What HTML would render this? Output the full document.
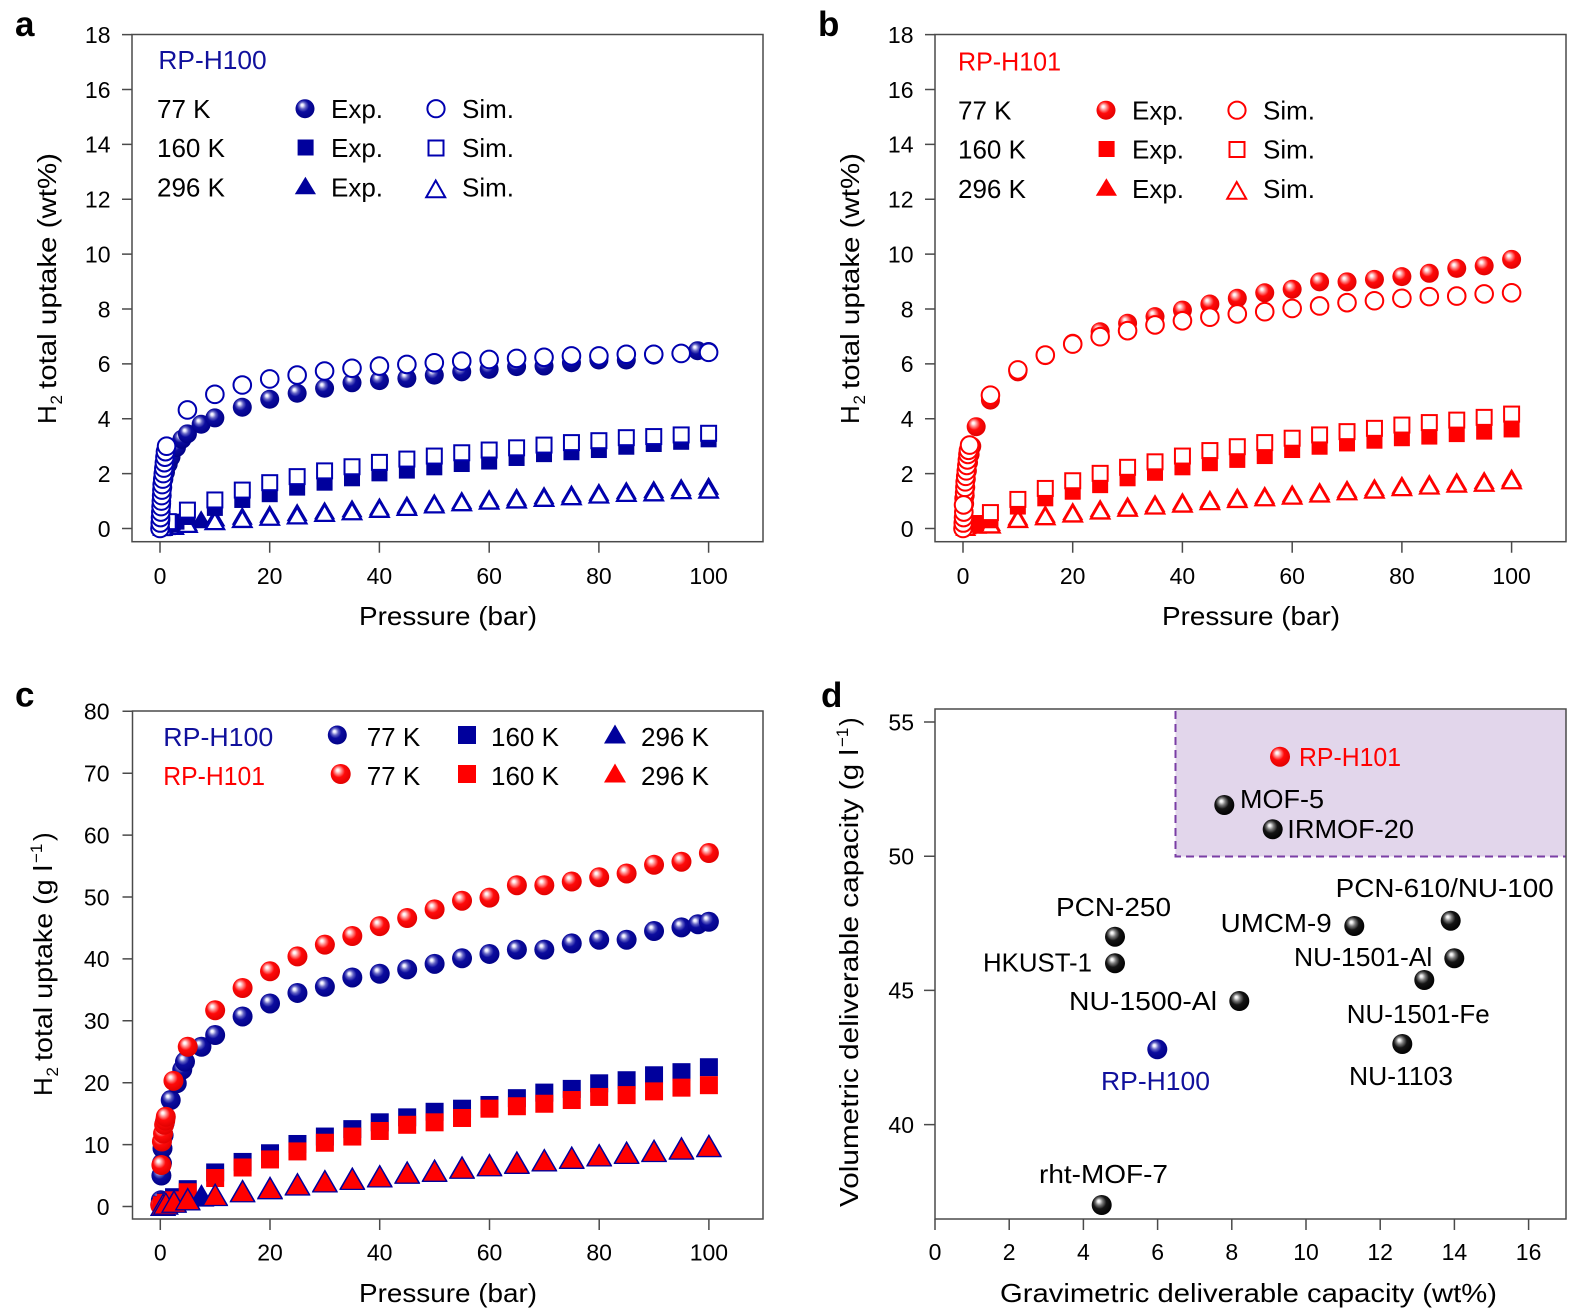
<!DOCTYPE html>
<html><head><meta charset="utf-8"><style>
html,body{margin:0;padding:0;background:#fff}
svg{display:block}
text{font-family:"Liberation Sans",Arial,sans-serif}
</style></head><body>
<svg xmlns="http://www.w3.org/2000/svg" width="1579" height="1313" viewBox="0 0 1579 1313" fill="#000">
<defs>
<radialGradient id="gB" cx="0.45" cy="0.42" r="0.6" fx="0.34" fy="0.3">
<stop offset="0" stop-color="#ffffff"/><stop offset="0.1" stop-color="#eeeeff"/><stop offset="0.3" stop-color="#6262c4"/><stop offset="0.52" stop-color="#0c0c9e"/><stop offset="1" stop-color="#000086"/></radialGradient>
<radialGradient id="gR" cx="0.45" cy="0.42" r="0.6" fx="0.34" fy="0.3">
<stop offset="0" stop-color="#ffffff"/><stop offset="0.1" stop-color="#fff0f0"/><stop offset="0.3" stop-color="#ff8080"/><stop offset="0.52" stop-color="#ff0a0a"/><stop offset="1" stop-color="#e00000"/></radialGradient>
<radialGradient id="gK" cx="0.45" cy="0.42" r="0.6" fx="0.34" fy="0.3">
<stop offset="0" stop-color="#ffffff"/><stop offset="0.1" stop-color="#eeeeee"/><stop offset="0.3" stop-color="#7a7a7a"/><stop offset="0.55" stop-color="#151515"/><stop offset="1" stop-color="#000000"/></radialGradient>
<!-- panel a/b markers -->
<g id="ceA" transform="scale(.182282 -.036443)"><circle r="9.5" fill="url(#gB)"/></g>
<g id="csA" transform="scale(.182282 -.036443)"><circle r="8.8" fill="#fff" stroke="#0000b0" stroke-width="2"/></g>
<g id="qeA" transform="scale(.182282 -.036443)"><rect x="-8" y="-8" width="16" height="16" fill="#00009c"/></g>
<g id="qsA" transform="scale(.182282 -.036443)"><rect x="-7.5" y="-7.5" width="15" height="15" fill="#fff" stroke="#0000b0" stroke-width="2"/></g>
<g id="teA" transform="scale(.182282 -.036443)"><polygon points="0,-10 10.5,8 -10.5,8" fill="#00009c"/></g>
<g id="tsA" transform="scale(.182282 -.036443)"><polygon points="0,-8.5 9.2,7.5 -9.2,7.5" fill="#fff" stroke="#0000b0" stroke-width="2.3"/></g>
<g id="ceR" transform="scale(.182282 -.036443)"><circle r="9.5" fill="url(#gR)"/></g>
<g id="csR" transform="scale(.182282 -.036443)"><circle r="8.8" fill="#fff" stroke="#ff0000" stroke-width="2"/></g>
<g id="qeR" transform="scale(.182282 -.036443)"><rect x="-8" y="-8" width="16" height="16" fill="#ff0000"/></g>
<g id="qsR" transform="scale(.182282 -.036443)"><rect x="-7.5" y="-7.5" width="15" height="15" fill="#fff" stroke="#ff0000" stroke-width="2"/></g>
<g id="teR" transform="scale(.182282 -.036443)"><polygon points="0,-10 10.5,8 -10.5,8" fill="#ff0000"/></g>
<g id="tsR" transform="scale(.182282 -.036443)"><polygon points="0,-8.5 9.2,7.5 -9.2,7.5" fill="#fff" stroke="#ff0000" stroke-width="2.3"/></g>
<!-- panel c markers -->
<g id="cBc" transform="scale(.182282 -.161551)"><circle r="10" fill="url(#gB)"/></g>
<g id="cRc" transform="scale(.182282 -.161551)"><circle r="10" fill="url(#gR)"/></g>
<g id="qBc" transform="scale(.182282 -.161551)"><rect x="-9" y="-9" width="18" height="18" fill="#00009c"/></g>
<g id="qRc" transform="scale(.182282 -.161551)"><rect x="-9" y="-9" width="18" height="18" fill="#ff0000"/></g>
<g id="tBc" transform="scale(.182282 -.161551)"><polygon points="0,-12.5 13,10 -13,10" fill="#00009c"/></g>
<g id="tRc" transform="scale(.182282 -.161551)"><polygon points="0,-11.5 12,9.5 -12,9.5" fill="#ff0000" stroke="#00009c" stroke-width="1.3"/></g>
</defs>
<rect width="1579" height="1313" fill="#fff"/>

<!-- ================= PANEL A ================= -->
<text x="15" y="36" font-size="35" font-weight="bold">a</text>
<rect x="132" y="34.5" width="631" height="507.2" fill="none" stroke="#4a4a4a" stroke-width="1.5"/>
<path d="M122 528.5H132M122 473.62H132M122 418.74H132M122 363.86H132M122 308.98H132M122 254.1H132M122 199.22H132M122 144.34H132M122 89.46H132M122 34.58H132M160 541.7V552.7M269.7 541.7V552.7M379.4 541.7V552.7M489.2 541.7V552.7M598.9 541.7V552.7M708.6 541.7V552.7" stroke="#4a4a4a" stroke-width="1.5" fill="none"/>
<g font-size="23" text-anchor="end">
<text x="110.5" y="536.8">0</text><text x="110.5" y="481.9">2</text><text x="110.5" y="427">4</text><text x="110.5" y="372.2">6</text><text x="110.5" y="317.3">8</text><text x="110.5" y="262.4">10</text><text x="110.5" y="207.5">12</text><text x="110.5" y="152.6">14</text><text x="110.5" y="97.8">16</text><text x="110.5" y="42.9">18</text>
</g>
<g font-size="23" text-anchor="middle">
<text x="160" y="583.8">0</text><text x="269.7" y="583.8">20</text><text x="379.4" y="583.8">40</text><text x="489.2" y="583.8">60</text><text x="598.9" y="583.8">80</text><text x="708.6" y="583.8">100</text>
</g>
<text x="359" y="625" font-size="26" textLength="178" lengthAdjust="spacingAndGlyphs">Pressure (bar)</text>
<g transform="translate(56,424) rotate(-90)" font-size="26">
<text x="0" y="0">H</text><text x="19.5" y="6" font-size="17">2</text>
<text x="35" y="0" textLength="236" lengthAdjust="spacingAndGlyphs">total uptake (wt%)</text>
</g>
<!-- legend a -->
<g font-size="26">
<text x="158.4" y="69" fill="#10109c" textLength="108.3" lengthAdjust="spacingAndGlyphs">RP-H100</text>
<text x="157" y="118">77 K</text><text x="157" y="157">160 K</text><text x="157" y="196.5">296 K</text>
<text x="331" y="118">Exp.</text><text x="331" y="157">Exp.</text><text x="331" y="196.5">Exp.</text>
<text x="462" y="118">Sim.</text><text x="462" y="157">Sim.</text><text x="462" y="196.5">Sim.</text>
</g>
<circle cx="305" cy="108.7" r="9.5" fill="url(#gB)"/>
<circle cx="436" cy="108.7" r="8.6" fill="#fff" stroke="#0000b0" stroke-width="2"/>
<rect x="297.6" y="139.5" width="16" height="16" fill="#00009c"/>
<rect x="428.5" y="140.5" width="15" height="15" fill="#fff" stroke="#0000b0" stroke-width="2"/>
<polygon points="305.4,176.7 316,194.3 294.8,194.3" fill="#00009c"/>
<polygon points="435.7,180.5 445.2,197.2 426.2,197.2" fill="#fff" stroke="#0000b0" stroke-width="2"/>
<!-- data a -->
<g transform="translate(160 528.5) scale(5.486 -27.44)">
<use href="#teA" x="0.5" y="0.02"/><use href="#teA" x="1" y="0.05"/><use href="#teA" x="2.5" y="0.12"/><use href="#teA" x="5" y="0.2"/><use href="#teA" x="7.5" y="0.3"/><use href="#teA" x="10" y="0.37"/><use href="#teA" x="15" y="0.43"/><use href="#teA" x="20" y="0.5"/><use href="#teA" x="25" y="0.56"/><use href="#teA" x="30" y="0.63"/><use href="#teA" x="35" y="0.7"/><use href="#teA" x="40" y="0.77"/><use href="#teA" x="45" y="0.84"/><use href="#teA" x="50" y="0.92"/><use href="#teA" x="55" y="1.0"/><use href="#teA" x="60" y="1.07"/><use href="#teA" x="65" y="1.12"/><use href="#teA" x="70" y="1.18"/><use href="#teA" x="75" y="1.24"/><use href="#teA" x="80" y="1.3"/><use href="#teA" x="85" y="1.36"/><use href="#teA" x="90" y="1.40"/><use href="#teA" x="95" y="1.47"/><use href="#teA" x="100" y="1.52"/>
<use href="#tsA" x="2.5" y="0.08"/><use href="#tsA" x="5" y="0.15"/><use href="#tsA" x="10" y="0.25"/><use href="#tsA" x="15" y="0.33"/><use href="#tsA" x="20" y="0.41"/><use href="#tsA" x="25" y="0.46"/><use href="#tsA" x="30" y="0.55"/><use href="#tsA" x="35" y="0.61"/><use href="#tsA" x="40" y="0.70"/><use href="#tsA" x="45" y="0.77"/><use href="#tsA" x="50" y="0.86"/><use href="#tsA" x="55" y="0.94"/><use href="#tsA" x="60" y="1.0"/><use href="#tsA" x="65" y="1.04"/><use href="#tsA" x="70" y="1.10"/><use href="#tsA" x="75" y="1.16"/><use href="#tsA" x="80" y="1.22"/><use href="#tsA" x="85" y="1.28"/><use href="#tsA" x="90" y="1.30"/><use href="#tsA" x="95" y="1.38"/><use href="#tsA" x="100" y="1.40"/>
<use href="#qeA" x="0.3" y="0.02"/><use href="#qeA" x="1" y="0.08"/><use href="#qeA" x="2" y="0.15"/><use href="#qeA" x="3" y="0.25"/><use href="#qeA" x="5" y="0.42"/><use href="#qeA" x="10" y="0.75"/><use href="#qeA" x="15" y="1.04"/><use href="#qeA" x="20" y="1.25"/><use href="#qeA" x="25" y="1.49"/><use href="#qeA" x="30" y="1.67"/><use href="#qeA" x="35" y="1.83"/><use href="#qeA" x="40" y="2.01"/><use href="#qeA" x="45" y="2.11"/><use href="#qeA" x="50" y="2.23"/><use href="#qeA" x="55" y="2.35"/><use href="#qeA" x="60" y="2.44"/><use href="#qeA" x="65" y="2.57"/><use href="#qeA" x="70" y="2.71"/><use href="#qeA" x="75" y="2.78"/><use href="#qeA" x="80" y="2.86"/><use href="#qeA" x="85" y="2.98"/><use href="#qeA" x="90" y="3.08"/><use href="#qeA" x="95" y="3.16"/><use href="#qeA" x="100" y="3.25"/>
<use href="#qsA" x="0.5" y="0.03"/><use href="#qsA" x="1.5" y="0.25"/><use href="#qsA" x="5" y="0.67"/><use href="#qsA" x="10" y="1.04"/><use href="#qsA" x="15" y="1.4"/><use href="#qsA" x="20" y="1.67"/><use href="#qsA" x="25" y="1.89"/><use href="#qsA" x="30" y="2.10"/><use href="#qsA" x="35" y="2.25"/><use href="#qsA" x="40" y="2.41"/><use href="#qsA" x="45" y="2.53"/><use href="#qsA" x="50" y="2.64"/><use href="#qsA" x="55" y="2.76"/><use href="#qsA" x="60" y="2.86"/><use href="#qsA" x="65" y="2.94"/><use href="#qsA" x="70" y="3.04"/><use href="#qsA" x="75" y="3.13"/><use href="#qsA" x="80" y="3.20"/><use href="#qsA" x="85" y="3.31"/><use href="#qsA" x="90" y="3.35"/><use href="#qsA" x="95" y="3.41"/><use href="#qsA" x="100" y="3.47"/>
<use href="#ceA" x="0.1" y="0"/><use href="#ceA" x="0.15" y="0.3"/><use href="#ceA" x="0.2" y="0.6"/><use href="#ceA" x="0.3" y="0.9"/><use href="#ceA" x="0.4" y="1.2"/><use href="#ceA" x="0.5" y="1.5"/><use href="#ceA" x="0.7" y="1.8"/><use href="#ceA" x="1" y="2.05"/><use href="#ceA" x="1.5" y="2.35"/><use href="#ceA" x="2" y="2.6"/><use href="#ceA" x="3" y="2.95"/><use href="#ceA" x="4" y="3.25"/><use href="#ceA" x="5" y="3.45"/><use href="#ceA" x="7.5" y="3.8"/><use href="#ceA" x="10" y="4.03"/><use href="#ceA" x="15" y="4.42"/><use href="#ceA" x="20" y="4.71"/><use href="#ceA" x="25" y="4.93"/><use href="#ceA" x="30" y="5.11"/><use href="#ceA" x="35" y="5.31"/><use href="#ceA" x="40" y="5.39"/><use href="#ceA" x="45" y="5.47"/><use href="#ceA" x="50" y="5.59"/><use href="#ceA" x="55" y="5.71"/><use href="#ceA" x="60" y="5.80"/><use href="#ceA" x="65" y="5.90"/><use href="#ceA" x="70" y="5.92"/><use href="#ceA" x="75" y="6.04"/><use href="#ceA" x="80" y="6.14"/><use href="#ceA" x="85" y="6.14"/><use href="#ceA" x="90" y="6.32"/><use href="#ceA" x="95" y="6.38"/><use href="#ceA" x="98" y="6.48"/><use href="#ceA" x="100" y="6.45"/>
<use href="#csA" x="0" y="0"/><use href="#csA" x="0.05" y="0.2"/><use href="#csA" x="0.1" y="0.4"/><use href="#csA" x="0.15" y="0.6"/><use href="#csA" x="0.2" y="0.8"/><use href="#csA" x="0.25" y="1.0"/><use href="#csA" x="0.3" y="1.2"/><use href="#csA" x="0.35" y="1.4"/><use href="#csA" x="0.4" y="1.6"/><use href="#csA" x="0.5" y="1.8"/><use href="#csA" x="0.6" y="2.0"/><use href="#csA" x="0.7" y="2.2"/><use href="#csA" x="0.8" y="2.4"/><use href="#csA" x="0.9" y="2.6"/><use href="#csA" x="1.0" y="2.8"/><use href="#csA" x="1.2" y="3.0"/><use href="#csA" x="5" y="4.32"/><use href="#csA" x="10" y="4.89"/><use href="#csA" x="15" y="5.23"/><use href="#csA" x="20" y="5.45"/><use href="#csA" x="25" y="5.59"/><use href="#csA" x="30" y="5.74"/><use href="#csA" x="35" y="5.84"/><use href="#csA" x="40" y="5.92"/><use href="#csA" x="45" y="5.98"/><use href="#csA" x="50" y="6.04"/><use href="#csA" x="55" y="6.10"/><use href="#csA" x="60" y="6.16"/><use href="#csA" x="65" y="6.20"/><use href="#csA" x="70" y="6.24"/><use href="#csA" x="75" y="6.29"/><use href="#csA" x="80" y="6.29"/><use href="#csA" x="85" y="6.35"/><use href="#csA" x="90" y="6.35"/><use href="#csA" x="95" y="6.38"/><use href="#csA" x="100" y="6.42"/>
</g>

<!-- ================= PANEL B ================= -->
<text x="818" y="36" font-size="35" font-weight="bold">b</text>
<rect x="935" y="34.5" width="631" height="507.2" fill="none" stroke="#4a4a4a" stroke-width="1.5"/>
<path d="M925 528.5H935M925 473.62H935M925 418.74H935M925 363.86H935M925 308.98H935M925 254.1H935M925 199.22H935M925 144.34H935M925 89.46H935M925 34.58H935M963 541.7V552.7M1072.7 541.7V552.7M1182.4 541.7V552.7M1292.2 541.7V552.7M1401.9 541.7V552.7M1511.6 541.7V552.7" stroke="#4a4a4a" stroke-width="1.5" fill="none"/>
<g font-size="23" text-anchor="end">
<text x="913.5" y="536.8">0</text><text x="913.5" y="481.9">2</text><text x="913.5" y="427">4</text><text x="913.5" y="372.2">6</text><text x="913.5" y="317.3">8</text><text x="913.5" y="262.4">10</text><text x="913.5" y="207.5">12</text><text x="913.5" y="152.6">14</text><text x="913.5" y="97.8">16</text><text x="913.5" y="42.9">18</text>
</g>
<g font-size="23" text-anchor="middle">
<text x="963" y="583.8">0</text><text x="1072.7" y="583.8">20</text><text x="1182.4" y="583.8">40</text><text x="1292.2" y="583.8">60</text><text x="1401.9" y="583.8">80</text><text x="1511.6" y="583.8">100</text>
</g>
<text x="1162" y="625" font-size="26" textLength="178" lengthAdjust="spacingAndGlyphs">Pressure (bar)</text>
<g transform="translate(859,424) rotate(-90)" font-size="26">
<text x="0" y="0">H</text><text x="19.5" y="6" font-size="17">2</text>
<text x="35" y="0" textLength="236" lengthAdjust="spacingAndGlyphs">total uptake (wt%)</text>
</g>
<g font-size="26">
<text x="958" y="70.5" fill="#ff0000" textLength="103" lengthAdjust="spacingAndGlyphs">RP-H101</text>
<text x="958" y="119.5">77 K</text><text x="958" y="158.5">160 K</text><text x="958" y="198">296 K</text>
<text x="1132" y="119.5">Exp.</text><text x="1132" y="158.5">Exp.</text><text x="1132" y="198">Exp.</text>
<text x="1263" y="119.5">Sim.</text><text x="1263" y="158.5">Sim.</text><text x="1263" y="198">Sim.</text>
</g>
<circle cx="1106" cy="110.2" r="9.5" fill="url(#gR)"/>
<circle cx="1237" cy="110.2" r="8.6" fill="#fff" stroke="#ff0000" stroke-width="2"/>
<rect x="1098.6" y="141" width="16" height="16" fill="#ff0000"/>
<rect x="1229.5" y="142" width="15" height="15" fill="#fff" stroke="#ff0000" stroke-width="2"/>
<polygon points="1106.4,178.2 1117,195.8 1095.8,195.8" fill="#ff0000"/>
<polygon points="1236.7,182 1246.2,198.7 1227.2,198.7" fill="#fff" stroke="#ff0000" stroke-width="2"/>
<g transform="translate(963 528.5) scale(5.486 -27.44)">
<use href="#teR" x="0.5" y="0.02"/><use href="#teR" x="2.5" y="0.1"/><use href="#teR" x="5" y="0.2"/><use href="#teR" x="10" y="0.4"/><use href="#teR" x="15" y="0.5"/><use href="#teR" x="20" y="0.6"/><use href="#teR" x="25" y="0.71"/><use href="#teR" x="30" y="0.81"/><use href="#teR" x="35" y="0.89"/><use href="#teR" x="40" y="0.96"/><use href="#teR" x="45" y="1.05"/><use href="#teR" x="50" y="1.13"/><use href="#teR" x="55" y="1.19"/><use href="#teR" x="60" y="1.25"/><use href="#teR" x="65" y="1.33"/><use href="#teR" x="70" y="1.41"/><use href="#teR" x="75" y="1.47"/><use href="#teR" x="80" y="1.56"/><use href="#teR" x="85" y="1.62"/><use href="#teR" x="90" y="1.69"/><use href="#teR" x="95" y="1.73"/><use href="#teR" x="100" y="1.82"/>
<use href="#tsR" x="5" y="0.13"/><use href="#tsR" x="10" y="0.33"/><use href="#tsR" x="15" y="0.43"/><use href="#tsR" x="20" y="0.53"/><use href="#tsR" x="25" y="0.64"/><use href="#tsR" x="30" y="0.74"/><use href="#tsR" x="35" y="0.82"/><use href="#tsR" x="40" y="0.89"/><use href="#tsR" x="45" y="0.98"/><use href="#tsR" x="50" y="1.06"/><use href="#tsR" x="55" y="1.12"/><use href="#tsR" x="60" y="1.18"/><use href="#tsR" x="65" y="1.26"/><use href="#tsR" x="70" y="1.34"/><use href="#tsR" x="75" y="1.40"/><use href="#tsR" x="80" y="1.49"/><use href="#tsR" x="85" y="1.55"/><use href="#tsR" x="90" y="1.62"/><use href="#tsR" x="95" y="1.65"/><use href="#tsR" x="100" y="1.74"/>
<use href="#qeR" x="0.3" y="0.02"/><use href="#qeR" x="1" y="0.08"/><use href="#qeR" x="2.4" y="0.2"/><use href="#qeR" x="5" y="0.3"/><use href="#qeR" x="10" y="0.8"/><use href="#qeR" x="15" y="1.10"/><use href="#qeR" x="20" y="1.34"/><use href="#qeR" x="25" y="1.58"/><use href="#qeR" x="30" y="1.83"/><use href="#qeR" x="35" y="2.03"/><use href="#qeR" x="40" y="2.23"/><use href="#qeR" x="45" y="2.38"/><use href="#qeR" x="50" y="2.50"/><use href="#qeR" x="55" y="2.64"/><use href="#qeR" x="60" y="2.86"/><use href="#qeR" x="65" y="2.98"/><use href="#qeR" x="70" y="3.10"/><use href="#qeR" x="75" y="3.20"/><use href="#qeR" x="80" y="3.29"/><use href="#qeR" x="85" y="3.35"/><use href="#qeR" x="90" y="3.44"/><use href="#qeR" x="95" y="3.53"/><use href="#qeR" x="100" y="3.61"/>
<use href="#qsR" x="0.5" y="0.04"/><use href="#qsR" x="5" y="0.58"/><use href="#qsR" x="10" y="1.06"/><use href="#qsR" x="15" y="1.46"/><use href="#qsR" x="20" y="1.74"/><use href="#qsR" x="25" y="2.01"/><use href="#qsR" x="30" y="2.23"/><use href="#qsR" x="35" y="2.43"/><use href="#qsR" x="40" y="2.64"/><use href="#qsR" x="45" y="2.84"/><use href="#qsR" x="50" y="2.98"/><use href="#qsR" x="55" y="3.13"/><use href="#qsR" x="60" y="3.29"/><use href="#qsR" x="65" y="3.41"/><use href="#qsR" x="70" y="3.53"/><use href="#qsR" x="75" y="3.65"/><use href="#qsR" x="80" y="3.77"/><use href="#qsR" x="85" y="3.86"/><use href="#qsR" x="90" y="3.95"/><use href="#qsR" x="95" y="4.05"/><use href="#qsR" x="100" y="4.17"/>
<use href="#ceR" x="0.1" y="0"/><use href="#ceR" x="0.15" y="0.3"/><use href="#ceR" x="0.2" y="0.6"/><use href="#ceR" x="0.3" y="0.9"/><use href="#ceR" x="0.4" y="1.2"/><use href="#ceR" x="0.5" y="1.5"/><use href="#ceR" x="0.6" y="1.8"/><use href="#ceR" x="0.8" y="2.1"/><use href="#ceR" x="1.0" y="2.4"/><use href="#ceR" x="1.3" y="2.7"/><use href="#ceR" x="1.6" y="3.0"/><use href="#ceR" x="2.4" y="3.71"/><use href="#ceR" x="5" y="4.68"/><use href="#ceR" x="10" y="5.71"/><use href="#ceR" x="15" y="6.30"/><use href="#ceR" x="20" y="6.75"/><use href="#ceR" x="25" y="7.17"/><use href="#ceR" x="30" y="7.48"/><use href="#ceR" x="35" y="7.72"/><use href="#ceR" x="40" y="7.96"/><use href="#ceR" x="45" y="8.18"/><use href="#ceR" x="50" y="8.39"/><use href="#ceR" x="55" y="8.59"/><use href="#ceR" x="60" y="8.72"/><use href="#ceR" x="65" y="8.99"/><use href="#ceR" x="70" y="8.99"/><use href="#ceR" x="75" y="9.08"/><use href="#ceR" x="80" y="9.18"/><use href="#ceR" x="85" y="9.30"/><use href="#ceR" x="90" y="9.48"/><use href="#ceR" x="95" y="9.57"/><use href="#ceR" x="100" y="9.81"/>
<use href="#csR" x="0" y="0"/><use href="#csR" x="0.05" y="0.2"/><use href="#csR" x="0.1" y="0.4"/><use href="#csR" x="0.15" y="0.6"/><use href="#csR" x="0.2" y="1.1"/><use href="#csR" x="0.3" y="1.3"/><use href="#csR" x="0.35" y="1.5"/><use href="#csR" x="0.4" y="1.7"/><use href="#csR" x="0.5" y="1.9"/><use href="#csR" x="0.6" y="2.1"/><use href="#csR" x="0.7" y="2.3"/><use href="#csR" x="0.8" y="2.5"/><use href="#csR" x="0.9" y="2.7"/><use href="#csR" x="1.0" y="2.85"/><use href="#csR" x="1.2" y="3.04"/><use href="#csR" x="0.1" y="0.86"/><use href="#csR" x="5" y="4.86"/><use href="#csR" x="10" y="5.78"/><use href="#csR" x="15" y="6.32"/><use href="#csR" x="20" y="6.72"/><use href="#csR" x="25" y="6.99"/><use href="#csR" x="30" y="7.21"/><use href="#csR" x="35" y="7.42"/><use href="#csR" x="40" y="7.57"/><use href="#csR" x="45" y="7.70"/><use href="#csR" x="50" y="7.82"/><use href="#csR" x="55" y="7.90"/><use href="#csR" x="60" y="8.02"/><use href="#csR" x="65" y="8.11"/><use href="#csR" x="70" y="8.23"/><use href="#csR" x="75" y="8.30"/><use href="#csR" x="80" y="8.39"/><use href="#csR" x="85" y="8.45"/><use href="#csR" x="90" y="8.47"/><use href="#csR" x="95" y="8.55"/><use href="#csR" x="100" y="8.59"/>
</g>

<!-- ================= PANEL C ================= -->
<text x="15" y="706.5" font-size="35" font-weight="bold">c</text>
<rect x="132.5" y="711" width="630.5" height="508" fill="none" stroke="#4a4a4a" stroke-width="1.5"/>
<path d="M122.5 1206.5H132.5M122.5 1144.6H132.5M122.5 1082.7H132.5M122.5 1020.8H132.5M122.5 958.9H132.5M122.5 897H132.5M122.5 835.1H132.5M122.5 773.2H132.5M122.5 711.3H132.5M160.3 1219V1230M270 1219V1230M379.7 1219V1230M489.5 1219V1230M599.2 1219V1230M708.9 1219V1230" stroke="#4a4a4a" stroke-width="1.5" fill="none"/>
<g font-size="23" text-anchor="end">
<text x="109.5" y="1214.8">0</text><text x="109.5" y="1152.9">10</text><text x="109.5" y="1091">20</text><text x="109.5" y="1029.1">30</text><text x="109.5" y="967.2">40</text><text x="109.5" y="905.3">50</text><text x="109.5" y="843.4">60</text><text x="109.5" y="781.5">70</text><text x="109.5" y="719.6">80</text>
</g>
<g font-size="23" text-anchor="middle">
<text x="160.3" y="1260.5">0</text><text x="270" y="1260.5">20</text><text x="379.7" y="1260.5">40</text><text x="489.5" y="1260.5">60</text><text x="599.2" y="1260.5">80</text><text x="708.9" y="1260.5">100</text>
</g>
<text x="359" y="1302" font-size="26" textLength="178" lengthAdjust="spacingAndGlyphs">Pressure (bar)</text>
<g transform="translate(52,1096) rotate(-90)" font-size="26">
<text x="0" y="0">H</text><text x="19.5" y="6" font-size="17">2</text>
<text x="35" y="0" textLength="196" lengthAdjust="spacingAndGlyphs">total uptake (g l</text>
<text x="233" y="-10" font-size="17">−1</text>
<text x="255" y="0">)</text>
</g>
<g font-size="26">
<text x="163.3" y="746" fill="#10109c" textLength="110" lengthAdjust="spacingAndGlyphs">RP-H100</text>
<text x="163.3" y="785" fill="#ff0000" textLength="101.7" lengthAdjust="spacingAndGlyphs">RP-H101</text>
<text x="366.7" y="746">77 K</text><text x="366.7" y="785">77 K</text>
<text x="491" y="746">160 K</text><text x="491" y="785">160 K</text>
<text x="641" y="746">296 K</text><text x="641" y="785">296 K</text>
</g>
<circle cx="337.3" cy="735" r="9.5" fill="url(#gB)"/>
<circle cx="340.7" cy="774" r="10" fill="url(#gR)"/>
<rect x="458" y="726" width="18" height="18" fill="#00009c"/>
<rect x="458" y="765" width="18" height="18" fill="#ff0000"/>
<polygon points="615,724.5 626,743.5 604,743.5" fill="#00009c"/>
<polygon points="615,763.5 626,782.5 604,782.5" fill="#ff0000"/>
<g transform="translate(160.3 1206.5) scale(5.486 -6.19)">
<use href="#cBc" x="0" y="0.3"/><use href="#cBc" x="0.1" y="1.0"/><use href="#cBc" x="0.2" y="5.0"/><use href="#cBc" x="0.3" y="7.0"/><use href="#cBc" x="0.4" y="9.4"/><use href="#cBc" x="0.6" y="11.5"/><use href="#cBc" x="0.8" y="13.5"/><use href="#cBc" x="1.9" y="17.2"/><use href="#cBc" x="3" y="19.9"/><use href="#cBc" x="4" y="22.1"/><use href="#cBc" x="4.5" y="23.4"/><use href="#cBc" x="7.5" y="25.8"/><use href="#cBc" x="10" y="27.7"/><use href="#cBc" x="15" y="30.7"/><use href="#cBc" x="20" y="32.8"/><use href="#cBc" x="25" y="34.5"/><use href="#cBc" x="30" y="35.5"/><use href="#cBc" x="35" y="37.0"/><use href="#cBc" x="40" y="37.6"/><use href="#cBc" x="45" y="38.3"/><use href="#cBc" x="50" y="39.2"/><use href="#cBc" x="55" y="40.1"/><use href="#cBc" x="60" y="40.8"/><use href="#cBc" x="65" y="41.5"/><use href="#cBc" x="70" y="41.5"/><use href="#cBc" x="75" y="42.5"/><use href="#cBc" x="80" y="43.1"/><use href="#cBc" x="85" y="43.1"/><use href="#cBc" x="90" y="44.5"/><use href="#cBc" x="95" y="45.1"/><use href="#cBc" x="98" y="45.6"/><use href="#cBc" x="100" y="46.0"/>
<use href="#cRc" x="0" y="0.2"/><use href="#cRc" x="0.2" y="6.7"/><use href="#cRc" x="0.3" y="10.5"/><use href="#cRc" x="0.5" y="11.8"/><use href="#cRc" x="0.7" y="13.2"/><use href="#cRc" x="0.9" y="13.9"/><use href="#cRc" x="1.0" y="14.5"/><use href="#cRc" x="2.4" y="20.3"/><use href="#cRc" x="5" y="25.8"/><use href="#cRc" x="10" y="31.7"/><use href="#cRc" x="15" y="35.3"/><use href="#cRc" x="20" y="38.0"/><use href="#cRc" x="25" y="40.4"/><use href="#cRc" x="30" y="42.3"/><use href="#cRc" x="35" y="43.7"/><use href="#cRc" x="40" y="45.3"/><use href="#cRc" x="45" y="46.6"/><use href="#cRc" x="50" y="48.0"/><use href="#cRc" x="55" y="49.4"/><use href="#cRc" x="60" y="49.9"/><use href="#cRc" x="65" y="51.9"/><use href="#cRc" x="70" y="51.9"/><use href="#cRc" x="75" y="52.5"/><use href="#cRc" x="80" y="53.2"/><use href="#cRc" x="85" y="53.8"/><use href="#cRc" x="90" y="55.2"/><use href="#cRc" x="95" y="55.7"/><use href="#cRc" x="100" y="57.1"/>
<use href="#qBc" x="0.3" y="0.3"/><use href="#qBc" x="1" y="0.8"/><use href="#qBc" x="2.5" y="1.5"/><use href="#qBc" x="5" y="2.8"/><use href="#qBc" x="10" y="5.5"/><use href="#qBc" x="15" y="7.2"/><use href="#qBc" x="20" y="8.6"/><use href="#qBc" x="25" y="10.1"/><use href="#qBc" x="30" y="11.3"/><use href="#qBc" x="35" y="12.5"/><use href="#qBc" x="40" y="13.6"/><use href="#qBc" x="45" y="14.4"/><use href="#qBc" x="50" y="15.3"/><use href="#qBc" x="55" y="15.8"/><use href="#qBc" x="60" y="16.4"/><use href="#qBc" x="65" y="17.5"/><use href="#qBc" x="70" y="18.4"/><use href="#qBc" x="75" y="19.0"/><use href="#qBc" x="80" y="19.9"/><use href="#qBc" x="85" y="20.4"/><use href="#qBc" x="90" y="21.2"/><use href="#qBc" x="95" y="21.7"/><use href="#qBc" x="100" y="22.5"/>
<use href="#qRc" x="0.3" y="0.2"/><use href="#qRc" x="1" y="0.6"/><use href="#qRc" x="2.5" y="1.0"/><use href="#qRc" x="5" y="2.3"/><use href="#qRc" x="10" y="4.6"/><use href="#qRc" x="15" y="6.3"/><use href="#qRc" x="20" y="7.6"/><use href="#qRc" x="25" y="8.9"/><use href="#qRc" x="30" y="10.3"/><use href="#qRc" x="35" y="11.3"/><use href="#qRc" x="40" y="12.2"/><use href="#qRc" x="45" y="13.2"/><use href="#qRc" x="50" y="13.6"/><use href="#qRc" x="55" y="14.3"/><use href="#qRc" x="60" y="15.8"/><use href="#qRc" x="65" y="16.2"/><use href="#qRc" x="70" y="16.6"/><use href="#qRc" x="75" y="17.2"/><use href="#qRc" x="80" y="17.7"/><use href="#qRc" x="85" y="18.0"/><use href="#qRc" x="90" y="18.6"/><use href="#qRc" x="95" y="19.2"/><use href="#qRc" x="100" y="19.6"/>
<use href="#tBc" x="0.5" y="0.1"/><use href="#tBc" x="2.5" y="0.7"/><use href="#tBc" x="5" y="1.1"/><use href="#tBc" x="7.5" y="1.6"/><use href="#tBc" x="10" y="1.8"/><use href="#tBc" x="15" y="2.4"/><use href="#tBc" x="20" y="2.9"/><use href="#tBc" x="25" y="3.5"/><use href="#tBc" x="30" y="4.0"/><use href="#tBc" x="35" y="4.4"/><use href="#tBc" x="40" y="4.8"/><use href="#tBc" x="45" y="5.4"/><use href="#tBc" x="50" y="5.7"/><use href="#tBc" x="55" y="6.2"/><use href="#tBc" x="60" y="6.6"/><use href="#tBc" x="65" y="7.0"/><use href="#tBc" x="70" y="7.4"/><use href="#tBc" x="75" y="7.8"/><use href="#tBc" x="80" y="8.2"/><use href="#tBc" x="85" y="8.6"/><use href="#tBc" x="90" y="8.9"/><use href="#tBc" x="95" y="9.3"/><use href="#tBc" x="100" y="9.7"/>
<use href="#tRc" x="0.5" y="0.1"/><use href="#tRc" x="1" y="0.3"/><use href="#tRc" x="2.5" y="0.6"/><use href="#tRc" x="5" y="1.0"/><use href="#tRc" x="10" y="1.7"/><use href="#tRc" x="15" y="2.3"/><use href="#tRc" x="20" y="2.8"/><use href="#tRc" x="25" y="3.4"/><use href="#tRc" x="30" y="3.9"/><use href="#tRc" x="35" y="4.3"/><use href="#tRc" x="40" y="4.7"/><use href="#tRc" x="45" y="5.3"/><use href="#tRc" x="50" y="5.6"/><use href="#tRc" x="55" y="6.1"/><use href="#tRc" x="60" y="6.5"/><use href="#tRc" x="65" y="6.9"/><use href="#tRc" x="70" y="7.3"/><use href="#tRc" x="75" y="7.7"/><use href="#tRc" x="80" y="8.1"/><use href="#tRc" x="85" y="8.5"/><use href="#tRc" x="90" y="8.8"/><use href="#tRc" x="95" y="9.2"/><use href="#tRc" x="100" y="9.6"/>
</g>

<!-- ================= PANEL D ================= -->
<text x="821" y="707" font-size="35" font-weight="bold">d</text>
<rect x="1175.5" y="710" width="390" height="146.5" fill="#e2d6eb"/>
<path d="M1175.5 711V856.5H1566" fill="none" stroke="#7a3ea5" stroke-width="2" stroke-dasharray="8 5"/>
<rect x="935" y="709" width="631" height="510" fill="none" stroke="#4a4a4a" stroke-width="1.5"/>
<path d="M924 722H935M924 856.2H935M924 990.4H935M924 1124.6H935M935 1219V1230M1009.2 1219V1230M1083.4 1219V1230M1157.6 1219V1230M1231.8 1219V1230M1306 1219V1230M1380.2 1219V1230M1454.4 1219V1230M1528.6 1219V1230" stroke="#4a4a4a" stroke-width="1.5" fill="none"/>
<g font-size="23" text-anchor="end">
<text x="914" y="730.3">55</text><text x="914" y="864.5">50</text><text x="914" y="998.7">45</text><text x="914" y="1132.9">40</text>
</g>
<g font-size="23" text-anchor="middle">
<text x="935" y="1260">0</text><text x="1009.2" y="1260">2</text><text x="1083.4" y="1260">4</text><text x="1157.6" y="1260">6</text><text x="1231.8" y="1260">8</text><text x="1306" y="1260">10</text><text x="1380.2" y="1260">12</text><text x="1454.4" y="1260">14</text><text x="1528.6" y="1260">16</text>
</g>
<text x="1000" y="1302" font-size="26" textLength="497" lengthAdjust="spacingAndGlyphs">Gravimetric deliverable capacity (wt%)</text>
<g transform="translate(858,1207) rotate(-90)" font-size="26">
<text x="0" y="0" textLength="458" lengthAdjust="spacingAndGlyphs">Volumetric deliverable capacity (g l</text>
<text x="460" y="-10" font-size="17">−1</text>
<text x="481" y="0">)</text>
</g>
<circle cx="1280" cy="756.7" r="10" fill="url(#gR)"/>
<circle cx="1224.3" cy="805" r="10" fill="url(#gK)"/>
<circle cx="1272.7" cy="829.3" r="10" fill="url(#gK)"/>
<circle cx="1450.7" cy="920.7" r="10" fill="url(#gK)"/>
<circle cx="1354.3" cy="926" r="10" fill="url(#gK)"/>
<circle cx="1454.3" cy="958.3" r="10" fill="url(#gK)"/>
<circle cx="1424.3" cy="980" r="10" fill="url(#gK)"/>
<circle cx="1402.3" cy="1044" r="10" fill="url(#gK)"/>
<circle cx="1239.3" cy="1001" r="10" fill="url(#gK)"/>
<circle cx="1115" cy="936.7" r="10" fill="url(#gK)"/>
<circle cx="1115" cy="963.3" r="10" fill="url(#gK)"/>
<circle cx="1157.3" cy="1049.3" r="10" fill="url(#gB)"/>
<circle cx="1101.7" cy="1205" r="10" fill="url(#gK)"/>
<g font-size="26">
<text x="1299" y="766" fill="#ff0000" textLength="102" lengthAdjust="spacingAndGlyphs">RP-H101</text>
<text x="1240" y="808" textLength="84" lengthAdjust="spacingAndGlyphs">MOF-5</text>
<text x="1287.3" y="838" textLength="126.7" lengthAdjust="spacingAndGlyphs">IRMOF-20</text>
<text x="1335.7" y="897" textLength="218" lengthAdjust="spacingAndGlyphs">PCN-610/NU-100</text>
<text x="1220.7" y="932" textLength="111" lengthAdjust="spacingAndGlyphs">UMCM-9</text>
<text x="1294" y="966" textLength="138.3" lengthAdjust="spacingAndGlyphs">NU-1501-Al</text>
<text x="1346.7" y="1023" textLength="143" lengthAdjust="spacingAndGlyphs">NU-1501-Fe</text>
<text x="1349" y="1085" textLength="104" lengthAdjust="spacingAndGlyphs">NU-1103</text>
<text x="1069" y="1010" textLength="148" lengthAdjust="spacingAndGlyphs">NU-1500-Al</text>
<text x="1056" y="916" textLength="115" lengthAdjust="spacingAndGlyphs">PCN-250</text>
<text x="983" y="971.7" textLength="109" lengthAdjust="spacingAndGlyphs">HKUST-1</text>
<text x="1101" y="1090" fill="#10109c" textLength="109" lengthAdjust="spacingAndGlyphs">RP-H100</text>
<text x="1039" y="1183" textLength="129" lengthAdjust="spacingAndGlyphs">rht-MOF-7</text>
</g>
</svg>
</body></html>
